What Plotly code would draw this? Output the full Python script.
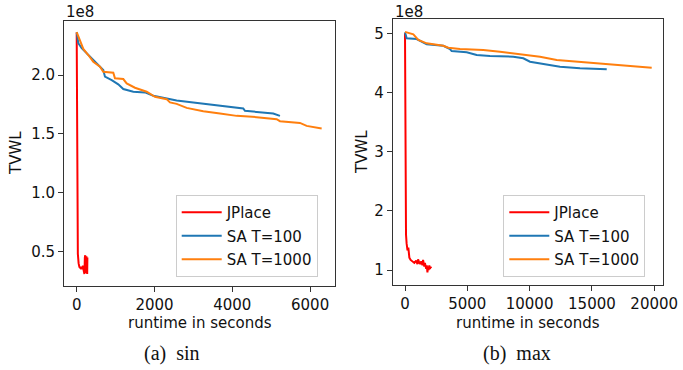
import plotly.graph_objects as go

# ---- data (TVWL in units of 1e8, runtime in seconds) ----
sin_jplace_t = [0, 8, 14, 20, 30, 50, 70, 100, 120, 140, 160, 180, 200, 210, 220, 230, 240, 250, 260, 270, 275]
sin_jplace_v = [2.36, 2.0, 1.0, 0.6, 0.48, 0.40, 0.37, 0.36, 0.37, 0.35, 0.38, 0.34, 0.31, 0.45, 0.47, 0.32, 0.35, 0.46, 0.33, 0.31, 0.45]

sin_sa100_t = [0, 42, 128, 257, 385, 514, 617, 684, 727, 900, 1069, 1198, 1455, 1755, 1970, 2226, 2570, 2997, 3426, 3940, 4282, 4325, 4796, 5053, 5225]
sin_sa100_v = [2.364, 2.27, 2.228, 2.185, 2.142, 2.108, 2.071, 2.043, 1.986, 1.957, 1.921, 1.881, 1.858, 1.852, 1.824, 1.807, 1.784, 1.767, 1.75, 1.733, 1.716, 1.696, 1.682, 1.673, 1.653]

sin_sa1000_t = [0, 85, 170, 298, 427, 599, 684, 941, 984, 1198, 1285, 1498, 1799, 2012, 2313, 2398, 2570, 2827, 3254, 3683, 4112, 4626, 5140, 5225, 5739, 5911, 6297]
sin_sa1000_v = [2.364, 2.298, 2.222, 2.17, 2.113, 2.071, 2.028, 2.02, 1.972, 1.966, 1.929, 1.892, 1.858, 1.815, 1.795, 1.767, 1.755, 1.721, 1.693, 1.673, 1.653, 1.642, 1.625, 1.608, 1.593, 1.568, 1.546]

max_jplace_t = [0, 20, 40, 80, 130, 200, 267, 300, 350, 450, 600, 750, 900, 1000, 1050, 1150, 1250, 1300, 1400, 1450, 1550, 1600, 1700, 1750, 1800, 1850, 1900, 1950, 2000, 2050, 2100]
max_jplace_v = [5.0, 4.0, 2.5, 1.6, 1.45, 1.33, 1.38, 1.25, 1.21, 1.17, 1.14, 1.12, 1.16, 1.10, 1.18, 1.12, 1.10, 1.15, 1.08, 1.17, 1.06, 1.12, 1.02, 1.08, 0.96, 1.06, 1.00, 1.08, 1.02, 1.05, 1.03]

max_sa100_t = [0, 134, 936, 1204, 1740, 3075, 3612, 3746, 4950, 5754, 6822, 8695, 9495, 10033, 11100, 12440, 14045, 16190]
max_sa100_v = [5.017, 4.916, 4.904, 4.87, 4.814, 4.79, 4.735, 4.701, 4.679, 4.633, 4.617, 4.605, 4.578, 4.52, 4.48, 4.436, 4.409, 4.392]

max_sa1000_t = [0, 669, 1070, 1740, 3075, 3478, 4414, 6285, 7625, 9495, 10835, 12175, 14045, 16190, 18323, 19800]
max_sa1000_v = [5.025, 4.983, 4.887, 4.831, 4.79, 4.757, 4.735, 4.718, 4.69, 4.645, 4.605, 4.549, 4.52, 4.48, 4.448, 4.419]

series_names = ["JPlace", "SA T=100", "SA T=1000"]
colors = ["#ff0000", "#1f77b4", "#ff7f0e"]

left_tickvals = [0.5, 1.0, 1.5, 2.0]
left_ticktext = ["0.5", "1.0", "1.5", "2.0"]
left_xticks = [0, 2000, 4000, 6000]
left_xtext = ["0", "2000", "4000", "6000"]
right_tickvals = [1, 2, 3, 4, 5]
right_ticktext = ["1", "2", "3", "4", "5"]
right_xticks = [0, 5000, 10000, 15000, 20000]
right_xtext = ["0", "5000", "10000", "15000", "20000"]

W, H = 683, 370
FONT = "DejaVu Sans"

fig = go.Figure()

left = [(sin_jplace_t, sin_jplace_v), (sin_sa100_t, sin_sa100_v), (sin_sa1000_t, sin_sa1000_v)]
right = [(max_jplace_t, max_jplace_v), (max_sa100_t, max_sa100_v), (max_sa1000_t, max_sa1000_v)]

for i, (t, v) in enumerate(left):
    fig.add_trace(go.Scatter(x=t, y=v, mode="lines", name=series_names[i],
                             line=dict(color=colors[i], width=2),
                             xaxis="x", yaxis="y", legend="legend",
                             legendgroup="a%d" % i))
for i, (t, v) in enumerate(right):
    fig.add_trace(go.Scatter(x=t, y=v, mode="lines", name=series_names[i],
                             line=dict(color=colors[i], width=2),
                             xaxis="x2", yaxis="y2", legend="legend2",
                             legendgroup="b%d" % i))

axis_common = dict(showgrid=False, zeroline=False, showline=True, mirror=True,
                   linecolor="#333", linewidth=1, ticks="outside", ticklen=5,
                   tickcolor="#333", automargin=False,
                   tickfont=dict(family=FONT, size=15, color="#111"))

def px_x(p):
    return p / W

def px_y(p):
    return 1 - p / H

legend_common = dict(yanchor="bottom", xanchor="left",
                     bordercolor="#cccccc", borderwidth=1, bgcolor="white",
                     font=dict(family=FONT, size=15, color="#111"),
                     tracegroupgap=1, traceorder="grouped", itemwidth=40)

fig.update_layout(
    template="none",
    width=W, height=H, margin=dict(l=0, r=0, t=0, b=0, autoexpand=False),
    paper_bgcolor="white", plot_bgcolor="white",
    xaxis=dict(domain=[px_x(64), px_x(335)], range=[-326, 6640], anchor="y",
               tickvals=left_xticks, ticktext=left_xtext, **axis_common),
    yaxis=dict(domain=[px_y(286), px_y(20.5)], range=[0.208, 2.463], anchor="x",
               tickvals=left_tickvals, ticktext=left_ticktext, **axis_common),
    xaxis2=dict(domain=[px_x(392.7), px_x(663.3)], range=[-987, 20730], anchor="y2",
                tickvals=right_xticks, ticktext=right_xtext, **axis_common),
    yaxis2=dict(domain=[px_y(285.3), px_y(19.3)], range=[0.742, 5.237], anchor="x2",
                tickvals=right_tickvals, ticktext=right_ticktext, **axis_common),
    legend=dict(x=px_x(175.7), y=px_y(277), **legend_common),
    legend2=dict(x=px_x(503.3), y=px_y(277), **legend_common),
    showlegend=True,
)

ann = []
ann.append(dict(text="1e8", x=px_x(64), y=px_y(12.5), xref="paper", yref="paper",
                xanchor="left", yanchor="middle", showarrow=False,
                font=dict(family=FONT, size=15, color="#111")))
ann.append(dict(text="1e8", x=px_x(393), y=px_y(12), xref="paper", yref="paper",
                xanchor="left", yanchor="middle", showarrow=False,
                font=dict(family=FONT, size=15, color="#111")))
ann.append(dict(text="TVWL", x=px_x(16), y=px_y(153), xref="paper", yref="paper",
                textangle=-90, xanchor="center", yanchor="middle", showarrow=False,
                font=dict(family=FONT, size=15, color="#111")))
ann.append(dict(text="TVWL", x=px_x(362), y=px_y(152), xref="paper", yref="paper",
                textangle=-90, xanchor="center", yanchor="middle", showarrow=False,
                font=dict(family=FONT, size=15, color="#111")))
ann.append(dict(text="runtime in seconds", x=px_x(199.5), y=px_y(322.5), xref="paper", yref="paper",
                xanchor="center", yanchor="middle", showarrow=False,
                font=dict(family=FONT, size=15, color="#111")))
ann.append(dict(text="runtime in seconds", x=px_x(528), y=px_y(322.5), xref="paper", yref="paper",
                xanchor="center", yanchor="middle", showarrow=False,
                font=dict(family=FONT, size=15, color="#111")))
ann.append(dict(text="(a)\u00a0\u00a0sin", x=px_x(172), y=px_y(353), xref="paper", yref="paper",
                xanchor="center", yanchor="middle", showarrow=False,
                font=dict(family="Liberation Serif", size=20, color="#111")))
ann.append(dict(text="(b)\u00a0\u00a0max", x=px_x(516.5), y=px_y(353), xref="paper", yref="paper",
                xanchor="center", yanchor="middle", showarrow=False,
                font=dict(family="Liberation Serif", size=20, color="#111")))
fig.update_layout(annotations=ann)

fig.write_html("out.html", config={"displayModeBar": False},
               post_script="document.body.style.margin='0';document.body.style.padding='0';")
